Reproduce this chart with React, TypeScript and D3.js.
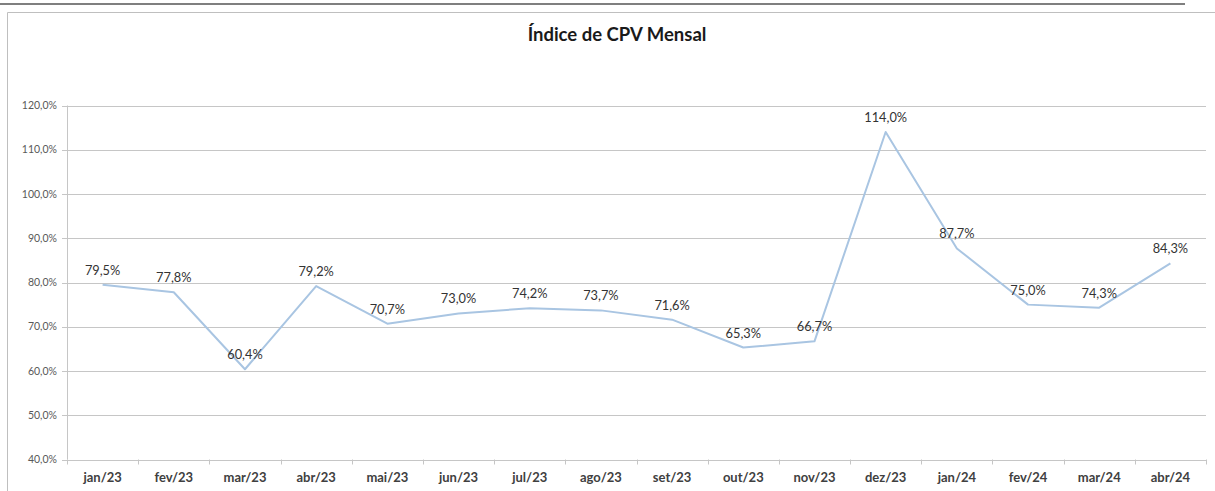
import React from "react";
import * as d3 from "d3";

const categories = ["jan/23","fev/23","mar/23","abr/23","mai/23","jun/23","jul/23","ago/23","set/23","out/23","nov/23","dez/23","jan/24","fev/24","mar/24","abr/24"];
const values = [79.5, 77.8, 60.4, 79.2, 70.7, 73.0, 74.2, 73.7, 71.6, 65.3, 66.7, 114.0, 87.7, 75.0, 74.3, 84.3];
const yTicks = [40, 50, 60, 70, 80, 90, 100, 110, 120];
const title = "Índice de CPV Mensal";

const W = 1215, H = 491;
const left = 67, right = 1206, top = 105.5, bottom = 459.5;
const font = "Lato, 'Open Sans', sans-serif";

const fmt = (v: number) => v.toFixed(1).replace(".", ",") + "%";

export default function App() {
  const x = d3.scaleBand<string>().domain(categories).range([left, right]).padding(0);
  const y = d3.scaleLinear().domain([40, 120]).range([bottom, top]);
  const cx = (c: string) => (x(c) as number) + x.bandwidth() / 2;
  const line = d3.line<number>().x((_, i) => cx(categories[i])).y((d) => y(d));
  const bounds = categories.map((c) => x(c) as number).concat([right]);

  return (
    <svg width={W} height={H} style={{ position: "absolute", left: 0, top: 0, background: "#fff" }}>
      <line x1={0} x2={1185} y1={4} y2={4} stroke="#7f7f7f" strokeWidth={2} />
      <line x1={7.5} x2={W} y1={12.5} y2={12.5} stroke="#bfbfbf" strokeWidth={1} />
      <line x1={7.5} x2={7.5} y1={12.5} y2={H} stroke="#bfbfbf" strokeWidth={1} />
      <text x={617} y={41} textAnchor="middle" fontFamily={font} fontWeight="bold" fontSize={18.5} fill="#1a1a1a">{title}</text>
      {yTicks.map((t) => (
        <g key={t}>
          <line x1={left - 5} x2={right} y1={Math.round(y(t)) + 0.5} y2={Math.round(y(t)) + 0.5} stroke="#c6c6c6" strokeWidth={1} />
          <text x={57} y={y(t) + 3.5} textAnchor="end" fontFamily={font} fontSize={10.5} fill="#595959">{fmt(t)}</text>
        </g>
      ))}
      <line x1={left + 0.5} x2={left + 0.5} y1={top} y2={bottom} stroke="#c6c6c6" strokeWidth={1} />
      {bounds.map((b, i) => (
        <line key={i} x1={Math.round(b) + 0.5} x2={Math.round(b) + 0.5} y1={bottom} y2={bottom + 5} stroke="#c6c6c6" strokeWidth={1} />
      ))}
      {categories.map((c) => (
        <text key={c} x={cx(c)} y={482} textAnchor="middle" fontFamily={font} fontWeight="bold" fontSize={13} fill="#404040">{c}</text>
      ))}
      <path d={line(values) || ""} fill="none" stroke="#a9c5e2" strokeWidth={2} strokeLinejoin="round" />
      {values.map((v, i) => (
        <text key={i} x={cx(categories[i])} y={y(v) - 10} textAnchor="middle" fontFamily={font} fontSize={12.8} fill="#333">{fmt(v)}</text>
      ))}
    </svg>
  );
}
